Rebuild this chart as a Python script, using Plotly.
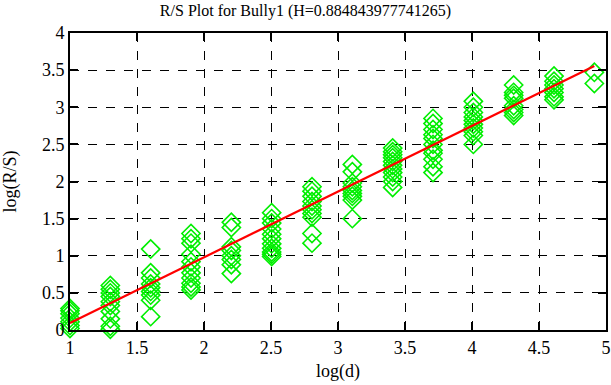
import plotly.graph_objects as go

# log(d) positions of the point columns
log_d = [1.0, 1.301, 1.602, 1.903, 2.204, 2.505, 2.806, 3.107, 3.408, 3.709, 4.010, 4.311, 4.612, 4.913]

# log(R/S) values per column
col_01 = [0.29, 0.26, 0.22, 0.16, 0.11, 0.06, 0.02]
col_02 = [0.60, 0.55, 0.50, 0.45, 0.38, 0.33, 0.25, 0.15, 0.05, 0.01]
col_03 = [1.09, 0.77, 0.70, 0.62, 0.57, 0.52, 0.47, 0.40, 0.18]
col_04 = [1.30, 1.23, 1.17, 1.02, 0.92, 0.85, 0.77, 0.70, 0.63, 0.58, 0.54]
col_05 = [1.45, 1.38, 1.12, 1.07, 1.00, 0.95, 0.88, 0.76]
col_06 = [1.58, 1.50, 1.44, 1.36, 1.29, 1.23, 1.16, 1.10, 1.05, 1.02, 0.99]
col_07 = [1.93, 1.87, 1.80, 1.73, 1.67, 1.62, 1.57, 1.52, 1.30, 1.17]
col_08 = [2.23, 2.13, 1.98, 1.93, 1.88, 1.84, 1.80, 1.75, 1.50]
col_09 = [2.45, 2.40, 2.36, 2.32, 2.27, 2.22, 2.17, 2.12, 2.06, 2.00, 1.92]
col_10 = [2.85, 2.78, 2.70, 2.63, 2.58, 2.50, 2.42, 2.38, 2.30, 2.20, 2.12]
col_11 = [3.08, 3.00, 2.93, 2.87, 2.82, 2.77, 2.72, 2.67, 2.62, 2.50]
col_12 = [3.30, 3.20, 3.16, 3.12, 3.02, 2.97, 2.93, 2.89]
col_13 = [3.42, 3.35, 3.30, 3.25, 3.20, 3.14, 3.10]
col_14 = [3.47, 3.32]

columns = [col_01, col_02, col_03, col_04, col_05, col_06, col_07,
           col_08, col_09, col_10, col_11, col_12, col_13, col_14]

# fitted line (slope H)
H = 0.884843977741265
fit_x = [1.0, 4.913]
fit_y = [0.094, 3.556]

x_ticks = [1, 1.5, 2, 2.5, 3, 3.5, 4, 4.5, 5]
x_labels = ["1", "1.5", "2", "2.5", "3", "3.5", "4", "4.5", "5"]
y_ticks = [0, 0.5, 1, 1.5, 2, 2.5, 3, 3.5, 4]
y_labels = ["0", "0.5", "1", "1.5", "2", "2.5", "3", "3.5", "4"]

pts_x, pts_y = [], []
for xv, col in zip(log_d, columns):
    for yv in col:
        pts_x.append(xv)
        pts_y.append(yv)

fig = go.Figure()
fig.add_trace(go.Scatter(
    x=pts_x, y=pts_y, mode="markers",
    marker=dict(symbol="diamond-open", size=14, color="#00ee00",
                line=dict(width=1.6, color="#00ee00")),
    showlegend=False, cliponaxis=False))
fig.add_trace(go.Scatter(
    x=fit_x, y=fit_y, mode="lines",
    line=dict(color="#ff0000", width=2.2),
    showlegend=False))

font_family = "Liberation Serif"
axis_common = dict(
    showline=True, linecolor="black", linewidth=2, mirror="ticks",
    ticks="inside", ticklen=8, tickwidth=1.5, tickcolor="black",
    showgrid=True, gridcolor="black", gridwidth=1, griddash="dash",
    zeroline=False, automargin=False,
    tickfont=dict(family=font_family, size=18, color="black"),
)

fig.update_layout(
    width=611, height=385,
    margin=dict(l=70, r=5, t=33, b=55),
    paper_bgcolor="white", plot_bgcolor="white",
    font=dict(family=font_family, color="black"),
    title=dict(text="R/S Plot for Bully1 (H=0.884843977741265)",
               x=0.5, xanchor="center", y=0.972, yanchor="middle",
               font=dict(family=font_family, size=16, color="black")),
    xaxis=dict(range=[1, 5], tickvals=x_ticks, ticktext=x_labels,
               title=dict(text="log(d)", standoff=8,
                          font=dict(family=font_family, size=18, color="black")),
               **axis_common),
    yaxis=dict(range=[0, 4], tickvals=y_ticks, ticktext=y_labels,
               title=dict(text="log(R/S)", standoff=24,
                          font=dict(family=font_family, size=18, color="black")),
               **axis_common),
)

fig.write_html("out.html",
               config={"displayModeBar": False},
               post_script="document.body.style.margin='0';document.body.style.padding='0';document.body.style.overflow='hidden';")
